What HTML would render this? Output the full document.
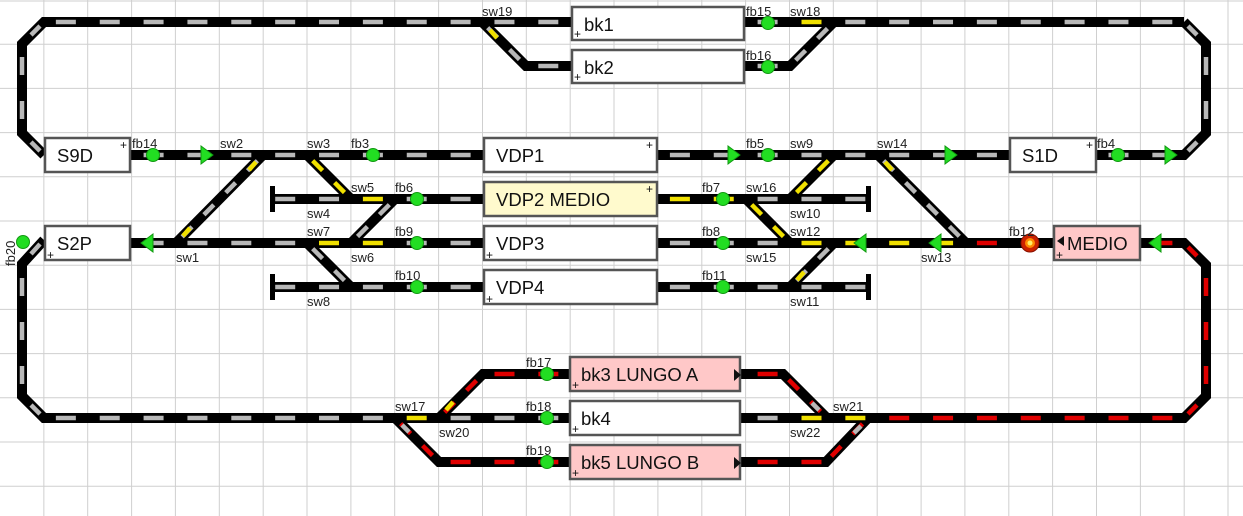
<!DOCTYPE html>
<html><head><meta charset="utf-8">
<style>
html,body{margin:0;padding:0;background:#fff;}
svg{display:block;font-family:"Liberation Sans",sans-serif;}
.t{stroke:#000;stroke-width:10;fill:none;stroke-linejoin:miter;}
.g,.y,.r{fill:none;stroke-width:4.5;stroke-dasharray:20 23.86;stroke-dashoffset:-12;}
.g{stroke:#b8b8b8}.y{stroke:#f0e000}.r{stroke:#e00000}
.d{fill:none;stroke-width:4.5;stroke-dasharray:14 17;stroke-dashoffset:-8}
.lbl{font-size:13px;fill:#222}
.bx{stroke:#555;stroke-width:2.5}
.bt{font-size:18.5px;fill:#111}
.pl{font-size:12px;fill:#111}
.fb{fill:#22dd22;stroke:#119911;stroke-width:1}
.ar{fill:#22dd22;stroke:#119911;stroke-width:1}
</style></head><body>
<svg width="1243" height="516" viewBox="0 0 1243 516">
<g stroke="#cfcfcf" stroke-width="1">
<line x1="0" y1="1" x2="1243" y2="1"/>
<line x1="0" y1="44.2" x2="1243" y2="44.2"/><line x1="0" y1="88.4" x2="1243" y2="88.4"/><line x1="0" y1="132.6" x2="1243" y2="132.6"/><line x1="0" y1="176.8" x2="1243" y2="176.8"/><line x1="0" y1="221" x2="1243" y2="221"/><line x1="0" y1="265.2" x2="1243" y2="265.2"/><line x1="0" y1="309.4" x2="1243" y2="309.4"/><line x1="0" y1="353.6" x2="1243" y2="353.6"/><line x1="0" y1="397.8" x2="1243" y2="397.8"/><line x1="0" y1="442" x2="1243" y2="442"/><line x1="0" y1="486.2" x2="1243" y2="486.2"/>
<line x1="43.86" y1="0" x2="43.86" y2="516"/><line x1="87.7" y1="0" x2="87.7" y2="516"/><line x1="131.6" y1="0" x2="131.6" y2="516"/><line x1="175.4" y1="0" x2="175.4" y2="516"/><line x1="219.3" y1="0" x2="219.3" y2="516"/><line x1="263.2" y1="0" x2="263.2" y2="516"/><line x1="307" y1="0" x2="307" y2="516"/><line x1="350.9" y1="0" x2="350.9" y2="516"/><line x1="394.7" y1="0" x2="394.7" y2="516"/><line x1="438.6" y1="0" x2="438.6" y2="516"/><line x1="482.5" y1="0" x2="482.5" y2="516"/><line x1="526.3" y1="0" x2="526.3" y2="516"/><line x1="570.2" y1="0" x2="570.2" y2="516"/><line x1="614" y1="0" x2="614" y2="516"/><line x1="657.9" y1="0" x2="657.9" y2="516"/><line x1="701.8" y1="0" x2="701.8" y2="516"/><line x1="745.6" y1="0" x2="745.6" y2="516"/><line x1="789.5" y1="0" x2="789.5" y2="516"/><line x1="833.3" y1="0" x2="833.3" y2="516"/><line x1="877.2" y1="0" x2="877.2" y2="516"/><line x1="921.1" y1="0" x2="921.1" y2="516"/><line x1="964.9" y1="0" x2="964.9" y2="516"/><line x1="1008.8" y1="0" x2="1008.8" y2="516"/><line x1="1052.6" y1="0" x2="1052.6" y2="516"/><line x1="1096.5" y1="0" x2="1096.5" y2="516"/><line x1="1140.4" y1="0" x2="1140.4" y2="516"/><line x1="1184.2" y1="0" x2="1184.2" y2="516"/><line x1="1228" y1="0" x2="1228" y2="516"/>
</g>

<g class="t">
<path d="M1184,22 L44,22 L22,44 L22,133 L44,155"/>
<path d="M1184,22 L1206,44 L1206,133 L1184,155 L1096,155"/>
<path d="M482,22 L526,66 L572,66"/>
<path d="M744,66 L790,66 L834,22"/>
<path d="M130,155 L484,155"/><path d="M657,155 L1009,155"/>
<path d="M272,199 L484,199"/><path d="M657,199 L868,199"/>
<path d="M130,243 L484,243"/><path d="M657,243 L1053,243"/><path d="M1140,243 L1184,243 L1206,265 L1206,396 L1184,418 L740,418"/>
<path d="M272,287 L484,287"/><path d="M657,287 L868,287"/>
<path d="M263,155 L176,243"/><path d="M307,155 L351,199"/><path d="M395,199 L351,243"/><path d="M307,243 L351,287"/>
<path d="M834,155 L790,199"/><path d="M878,155 L966,243"/><path d="M746,199 L790,243"/><path d="M834,243 L790,287"/>
<path d="M44,240 L22,264 L22,396 L44,418 L570,418"/>
<path d="M395,418 L439,462 L572,462"/><path d="M439,418 L483,374 L572,374"/>
<path d="M740,374 L783,374 L827,418"/><path d="M740,462 L826,462 L868,418"/>
</g>
<g fill="#000"><rect x="270" y="186" width="5" height="26"/><rect x="866" y="186" width="5" height="26"/><rect x="270" y="274" width="5" height="26"/><rect x="866" y="274" width="5" height="26"/></g>

<line class="g" x1="43.86" y1="22" x2="570" y2="22"/>
<line class="g" x1="745.6" y1="22" x2="789.5" y2="22"/>
<line class="y" x1="789.5" y1="22" x2="833.3" y2="22"/>
<line class="g" x1="833.3" y1="22" x2="1184" y2="22"/>
<line class="g" x1="526.3" y1="66" x2="570" y2="66"/>
<line class="g" x1="745.6" y1="66" x2="789.5" y2="66"/>
<line class="g" x1="131.6" y1="155" x2="482" y2="155"/>
<line class="g" x1="657.9" y1="155" x2="1008" y2="155"/>
<line class="g" x1="1096.5" y1="155" x2="1184" y2="155"/>
<line class="g" x1="263.2" y1="199" x2="350.9" y2="199"/>
<line class="y" x1="350.9" y1="199" x2="394.7" y2="199"/>
<line class="g" x1="394.7" y1="199" x2="482" y2="199"/>
<line class="y" x1="657.9" y1="199" x2="745.6" y2="199"/>
<line class="g" x1="745.6" y1="199" x2="866" y2="199"/>
<line class="g" x1="131.6" y1="243" x2="307" y2="243"/>
<line class="y" x1="307" y1="243" x2="394.7" y2="243"/>
<line class="g" x1="394.7" y1="243" x2="482" y2="243"/>
<line class="g" x1="657.9" y1="243" x2="789.5" y2="243"/>
<line class="y" x1="789.5" y1="243" x2="964.9" y2="243"/>
<line class="r" x1="964.9" y1="243" x2="1008.8" y2="243"/>
<line class="r" x1="1140.4" y1="243" x2="1184" y2="243"/>
<line class="g" x1="263.2" y1="287" x2="482" y2="287"/>
<line class="g" x1="657.9" y1="287" x2="866" y2="287"/>
<line class="r" x1="482.5" y1="374" x2="570" y2="374"/>
<line class="r" x1="745.6" y1="374" x2="789.5" y2="374"/>
<line class="g" x1="43.86" y1="418" x2="394.7" y2="418"/>
<line class="y" x1="394.7" y1="418" x2="438.6" y2="418"/>
<line class="g" x1="438.6" y1="418" x2="570" y2="418"/>
<line class="g" x1="745.6" y1="418" x2="789.5" y2="418"/>
<line class="y" x1="789.5" y1="418" x2="877.2" y2="418"/>
<line class="r" x1="877.2" y1="418" x2="1184" y2="418"/>
<line class="r" x1="438.6" y1="462" x2="570" y2="462"/>
<line class="r" x1="745.6" y1="462" x2="833" y2="462"/>
<line class="d" stroke="#b8b8b8" x1="22" y1="44" x2="22" y2="133" style="stroke-dasharray:18 26;stroke-dashoffset:-13"/>
<line class="d" stroke="#b8b8b8" x1="1206" y1="44" x2="1206" y2="133" style="stroke-dasharray:18 26;stroke-dashoffset:-13"/>
<line class="d" stroke="#b8b8b8" x1="22" y1="265" x2="22" y2="396" style="stroke-dasharray:18 26;stroke-dashoffset:-13"/>
<line class="d" stroke="#e00000" x1="1206" y1="265" x2="1206" y2="396" style="stroke-dasharray:18 26;stroke-dashoffset:-13"/>
<g stroke-width="4.5">
<line stroke="#b8b8b8" x1="40" y1="26" x2="31" y2="35"/><line stroke="#b8b8b8" x1="31" y1="142" x2="40" y2="151"/>
<line stroke="#b8b8b8" x1="1188" y1="26" x2="1197" y2="35"/><line stroke="#b8b8b8" x1="1197" y1="142" x2="1188" y2="151"/>
<line stroke="#b8b8b8" x1="40" y1="244" x2="31" y2="254"/><line stroke="#b8b8b8" x1="31" y1="405" x2="40" y2="414"/>
<line stroke="#e00000" x1="1188" y1="247" x2="1197" y2="256"/><line stroke="#e00000" x1="1197" y1="405" x2="1188" y2="414"/>
</g>
<line class="d" stroke="#b8b8b8" x1="482" y1="22" x2="526" y2="66"/>
<line stroke="#f0e000" stroke-width="4.5" x1="490" y1="30" x2="497" y2="38"/>
<line class="d" stroke="#b8b8b8" x1="790" y1="66" x2="834" y2="22"/>
<line class="d" stroke="#b8b8b8" x1="263" y1="155" x2="176" y2="243"/>
<line stroke="#f0e000" stroke-width="4.5" x1="256" y1="162" x2="249" y2="170"/><line stroke="#f0e000" stroke-width="4.5" x1="190" y1="228" x2="183" y2="236"/>
<line class="d" stroke="#f0e000" x1="307" y1="155" x2="351" y2="199"/>
<line class="d" stroke="#b8b8b8" x1="395" y1="199" x2="351" y2="243"/>
<line class="d" stroke="#b8b8b8" x1="307" y1="243" x2="351" y2="287"/>
<line class="d" stroke="#f0e000" x1="834" y1="155" x2="790" y2="199"/>
<line class="d" stroke="#b8b8b8" x1="878" y1="155" x2="966" y2="243"/>
<line stroke="#f0e000" stroke-width="4.5" x1="885" y1="162" x2="892" y2="170"/>
<line class="d" stroke="#f0e000" x1="746" y1="199" x2="790" y2="243"/>
<line class="d" stroke="#b8b8b8" x1="834" y1="243" x2="790" y2="287"/>
<line stroke="#f0e000" stroke-width="4.5" x1="804" y1="272" x2="797" y2="280"/>
<line class="d" stroke="#e00000" x1="395" y1="418" x2="439" y2="462"/>
<line stroke="#b8b8b8" stroke-width="4.5" x1="402" y1="425" x2="409" y2="432"/>
<line class="d" stroke="#e00000" x1="439" y1="418" x2="483" y2="374"/>
<line stroke="#f0e000" stroke-width="4.5" x1="446" y1="410" x2="453" y2="402"/>
<line class="d" stroke="#e00000" x1="783" y1="374" x2="827" y2="418"/>
<line stroke="#b8b8b8" stroke-width="4.5" x1="812" y1="403" x2="819" y2="410"/>
<line class="d" stroke="#e00000" x1="868" y1="418" x2="826" y2="462"/>
<line stroke="#b8b8b8" stroke-width="4.5" x1="861" y1="426" x2="854" y2="433"/>

<g class="bx">
<rect x="572" y="7" width="172" height="33" fill="#fff"/>
<rect x="572" y="50" width="172" height="33" fill="#fff"/>
<rect x="45" y="138" width="85" height="34" fill="#fff"/>
<rect x="484" y="138" width="173" height="34" fill="#fff"/>
<rect x="1010" y="138" width="86" height="34" fill="#fff"/>
<rect x="484" y="182" width="173" height="34" fill="#fffacd"/>
<rect x="45" y="226" width="85" height="34" fill="#fff"/>
<rect x="484" y="226" width="173" height="34" fill="#fff"/>
<rect x="1054" y="226" width="86" height="34" fill="#ffc8c8"/>
<rect x="484" y="270" width="173" height="34" fill="#fff"/>
<rect x="570" y="357" width="170" height="34" fill="#ffc8c8"/>
<rect x="570" y="401" width="170" height="34" fill="#fff"/>
<rect x="570" y="445" width="170" height="34" fill="#ffc8c8"/>
</g>
<g class="bt">
<text x="584" y="31">bk1</text><text x="584" y="74">bk2</text>
<text x="57" y="162">S9D</text><text x="496" y="162">VDP1</text><text x="1022" y="162">S1D</text>
<text x="496" y="206">VDP2 MEDIO</text>
<text x="57" y="250">S2P</text><text x="496" y="250">VDP3</text><text x="1067" y="250">MEDIO</text>
<text x="496" y="294">VDP4</text>
<text x="581" y="381">bk3 LUNGO A</text><text x="581" y="425">bk4</text><text x="581" y="469">bk5 LUNGO B</text>
</g>
<g class="pl">
<text x="574" y="38">+</text><text x="574" y="81">+</text>
<text x="120" y="149">+</text><text x="646" y="149">+</text><text x="1086" y="149">+</text><text x="646" y="193">+</text>
<text x="47" y="259">+</text><text x="486" y="259">+</text><text x="1056" y="259">+</text><text x="486" y="303">+</text>
<text x="572" y="389">+</text><text x="572" y="433">+</text><text x="572" y="477">+</text>
</g>
<g fill="#111">
<polygon points="1064,236 1064,246 1057,241"/>
<polygon points="734,369 734,381 741,375"/>
<polygon points="734,457 734,469 741,463"/>
</g>

<g class="ar">
<polygon points="201,146 201,164 213,155"/>
<polygon points="728,146 728,164 740,155"/>
<polygon points="945,146 945,164 957,155"/>
<polygon points="1165,146 1165,164 1177,155"/>
<polygon points="153,234 153,252 141,243"/>
<polygon points="866,234 866,252 854,243"/>
<polygon points="941,234 941,252 929,243"/>
<polygon points="1161,234 1161,252 1149,243"/>
</g>
<g class="fb">
<circle cx="768" cy="23" r="6.5"/><circle cx="768" cy="67" r="6.5"/>
<circle cx="153" cy="155" r="6.5"/><circle cx="373" cy="155" r="6.5"/><circle cx="768" cy="155" r="6.5"/><circle cx="1118" cy="155" r="6.5"/>
<circle cx="417" cy="199" r="6.5"/><circle cx="723" cy="199" r="6.5"/>
<circle cx="417" cy="243" r="6.5"/><circle cx="723" cy="243" r="6.5"/>
<circle cx="417" cy="287" r="6.5"/><circle cx="723" cy="287" r="6.5"/>
<circle cx="23" cy="242" r="6.5"/>
<circle cx="547" cy="374" r="6.5"/><circle cx="547" cy="418" r="6.5"/><circle cx="547" cy="462" r="6.5"/>
</g>
<circle cx="1030" cy="243" r="9" fill="#cc2200" stroke="#881100"/>
<circle cx="1030" cy="243" r="5" fill="#ff8800"/>
<circle cx="1030" cy="243" r="2.5" fill="#ffee66"/>

<g class="lbl">
<text x="482" y="16">sw19</text><text x="746" y="16">fb15</text><text x="790" y="16">sw18</text><text x="746" y="60">fb16</text>
<text x="132" y="148">fb14</text><text x="220" y="148">sw2</text><text x="307" y="148">sw3</text><text x="351" y="148">fb3</text>
<text x="746" y="148">fb5</text><text x="790" y="148">sw9</text><text x="877" y="148">sw14</text><text x="1097" y="148">fb4</text>
<text x="351" y="192">sw5</text><text x="395" y="192">fb6</text><text x="702" y="192">fb7</text><text x="746" y="192">sw16</text>
<text x="307" y="218">sw4</text><text x="790" y="218">sw10</text>
<text x="307" y="236">sw7</text><text x="395" y="236">fb9</text><text x="702" y="236">fb8</text><text x="790" y="236">sw12</text><text x="1009" y="236">fb12</text>
<text x="176" y="262">sw1</text><text x="351" y="262">sw6</text><text x="746" y="262">sw15</text><text x="921" y="262">sw13</text>
<text x="395" y="280">fb10</text><text x="702" y="280">fb11</text>
<text x="307" y="306">sw8</text><text x="790" y="306">sw11</text>
<text x="526" y="367">fb17</text><text x="395" y="411">sw17</text><text x="526" y="411">fb18</text><text x="833" y="411">sw21</text>
<text x="439" y="437">sw20</text><text x="790" y="437">sw22</text><text x="526" y="455">fb19</text>
<text transform="translate(15,266) rotate(-90)">fb20</text>
</g>
</svg>
</body></html>
